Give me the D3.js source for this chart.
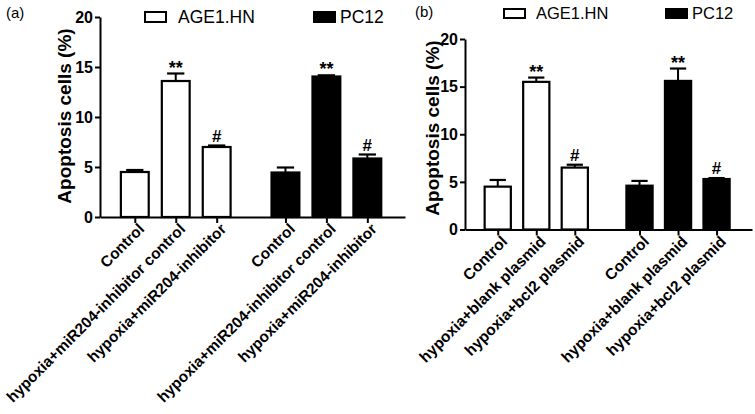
<!DOCTYPE html>
<html>
<head>
<meta charset="utf-8">
<script src="https://cdn.jsdelivr.net/npm/d3@7"></script>
<style>
  html, body { margin: 0; padding: 0; background: #fff; }
  svg { display: block; font-family: "Liberation Sans", Arial, sans-serif; }
</style>
</head>
<body>
<svg id="chart" width="755" height="414"></svg>
<script>
// ---- data ----
const seriesNames = ["AGE1.HN", "PC12"];
const yTicks = [0, 5, 10, 15, 20];
const categoriesA = ["Control", "hypoxia+miR204-inhibitor control", "hypoxia+miR204-inhibitor"];
const categoriesB = ["Control", "hypoxia+blank plasmid", "hypoxia+bcl2 plasmid"];

const meanA_AGE = [4.5, 13.6, 7.0];
const errA_AGE  = [0.2, 0.75, 0.15];
const sigA_AGE  = ["", "**", "#"];
const meanA_PC12 = [4.45, 14.05, 5.85];
const errA_PC12  = [0.5, 0.12, 0.4];
const sigA_PC12  = ["", "**", "#"];

const meanB_AGE = [4.5, 15.5, 6.5];
const errB_AGE  = [0.7, 0.45, 0.3];
const sigB_AGE  = ["", "**", "#"];
const meanB_PC12 = [4.6, 15.6, 5.3];
const errB_PC12  = [0.5, 1.3, 0.1];
const sigB_PC12  = ["", "**", "#"];

// ---- layout ----
const svg = d3.select("#chart");
const GROUP_GAP = 0.68;
const FONT = "'Liberation Sans', Arial, sans-serif";

function panel(cfg) {
  const g = svg.append("g");
  const x = d3.scaleLinear().domain([-0.85, 6.6]).range([cfg.x0, cfg.x1]);
  const y = d3.scaleLinear().domain([0, 20]).range([cfg.y0, cfg.y1]);
  const unit = x(1) - x(0);
  const bw = 0.68 * unit;
  const capW = 0.62 * bw;

  const rows = [];
  cfg.series.forEach((s, si) => {
    s.mean.forEach((m, i) => {
      rows.push({ pos: si * (3 + GROUP_GAP) + i, mean: m, err: s.err[i], sig: s.sig[i],
                  cat: cfg.categories[i], filled: si === 1 });
    });
  });

  // bars
  g.selectAll("rect.bar").data(rows).join("rect")
    .attr("x", d => x(d.pos) - bw / 2)
    .attr("y", d => y(d.mean))
    .attr("width", bw)
    .attr("height", d => y(0) - y(d.mean))
    .attr("fill", d => d.filled ? "#000" : "#fff")
    .attr("stroke", "#000")
    .attr("stroke-width", 2.2);

  // error bars (upper)
  g.selectAll("line.err").data(rows).join("line")
    .attr("x1", d => x(d.pos)).attr("x2", d => x(d.pos))
    .attr("y1", d => y(d.mean)).attr("y2", d => y(d.mean + d.err))
    .attr("stroke", "#000").attr("stroke-width", 2);
  g.selectAll("line.cap").data(rows).join("line")
    .attr("x1", d => x(d.pos) - capW / 2).attr("x2", d => x(d.pos) + capW / 2)
    .attr("y1", d => y(d.mean + d.err)).attr("y2", d => y(d.mean + d.err))
    .attr("stroke", "#000").attr("stroke-width", 2.2);

  // significance marks
  g.selectAll("text.sig").data(rows.filter(d => d.sig)).join("text")
    .attr("x", d => x(d.pos))
    .attr("y", d => y(d.mean + d.err) - (d.sig === "**" ? 0 : 4))
    .attr("text-anchor", "middle")
    .attr("font-family", FONT)
    .attr("font-size", d => d.sig === "**" ? 18 : 17)
    .attr("font-weight", "bold")
    .text(d => d.sig);

  // y axis
  const ya = g.append("g").attr("transform", `translate(${cfg.x0},0)`)
    .call(d3.axisLeft(y).tickValues(yTicks).tickSize(5).tickSizeOuter(0).tickPadding(2));
  ya.select(".domain").attr("stroke-width", 2);
  ya.selectAll(".tick line").attr("stroke-width", 2);
  ya.selectAll(".tick text").attr("font-size", 16).attr("font-weight", "bold")
    .attr("font-family", FONT).attr("fill", "#000");

  // x axis
  const xa = g.append("g").attr("transform", `translate(0,${cfg.y0})`)
    .call(d3.axisBottom(x).tickValues(rows.map(d => d.pos)).tickSize(6).tickSizeOuter(0)
      .tickFormat((d, i) => rows[i].cat));
  xa.select(".domain").attr("stroke-width", 2);
  xa.selectAll(".tick line").attr("stroke-width", 2);
  xa.selectAll(".tick text")
    .attr("font-size", cfg.labelSize).attr("font-weight", "bold")
    .attr("font-family", FONT).attr("fill", "#000")
    .attr("text-anchor", "end")
    .attr("y", 0).attr("dy", 0)
    .attr("transform", "translate(10,13) rotate(-45)");

  // y title
  g.append("text")
    .attr("transform", `translate(${cfg.titleX},${cfg.titleY}) rotate(-90)`)
    .attr("text-anchor", "middle")
    .attr("font-family", FONT)
    .attr("font-size", 19).attr("font-weight", "bold")
    .text("Apoptosis cells (%)");

  // panel label
  g.append("text").attr("x", cfg.labelX).attr("y", cfg.labelY)
    .attr("font-family", FONT)
    .attr("font-size", 15).text(cfg.panelLabel);

  // legend
  cfg.legend.forEach((L, i) => {
    g.append("rect").attr("x", L.bx).attr("y", L.by).attr("width", L.bw).attr("height", L.bh)
      .attr("fill", i === 1 ? "#000" : "#fff").attr("stroke", "#000").attr("stroke-width", 2);
    g.append("text").attr("x", L.tx).attr("y", L.by + L.bh + 1)
      .attr("font-family", FONT)
      .attr("font-size", L.fs).text(seriesNames[i]);
  });
}

panel({
  x0: 100, x1: 405, y0: 217, y1: 17,
  categories: categoriesA,
  series: [{ mean: meanA_AGE, err: errA_AGE, sig: sigA_AGE },
           { mean: meanA_PC12, err: errA_PC12, sig: sigA_PC12 }],
  labelSize: 15.4, titleX: 71, titleY: 116, panelLabel: "(a)", labelX: 6, labelY: 18,
  legend: [{ bx: 145, by: 12, bw: 21, bh: 10, tx: 178, fs: 17.5 },
           { bx: 314, by: 12, bw: 21, bh: 10, tx: 340, fs: 17.5 }]
});

panel({
  x0: 465, x1: 752, y0: 229.5, y1: 39,
  categories: categoriesB,
  series: [{ mean: meanB_AGE, err: errB_AGE, sig: sigB_AGE },
           { mean: meanB_PC12, err: errB_PC12, sig: sigB_PC12 }],
  labelSize: 15.5, titleX: 439, titleY: 128, panelLabel: "(b)", labelX: 415, labelY: 17,
  legend: [{ bx: 504, by: 9, bw: 21, bh: 9, tx: 536, fs: 16.5 },
           { bx: 666, by: 9, bw: 21, bh: 9, tx: 692, fs: 16.5 }]
});
</script>
</body>
</html>
